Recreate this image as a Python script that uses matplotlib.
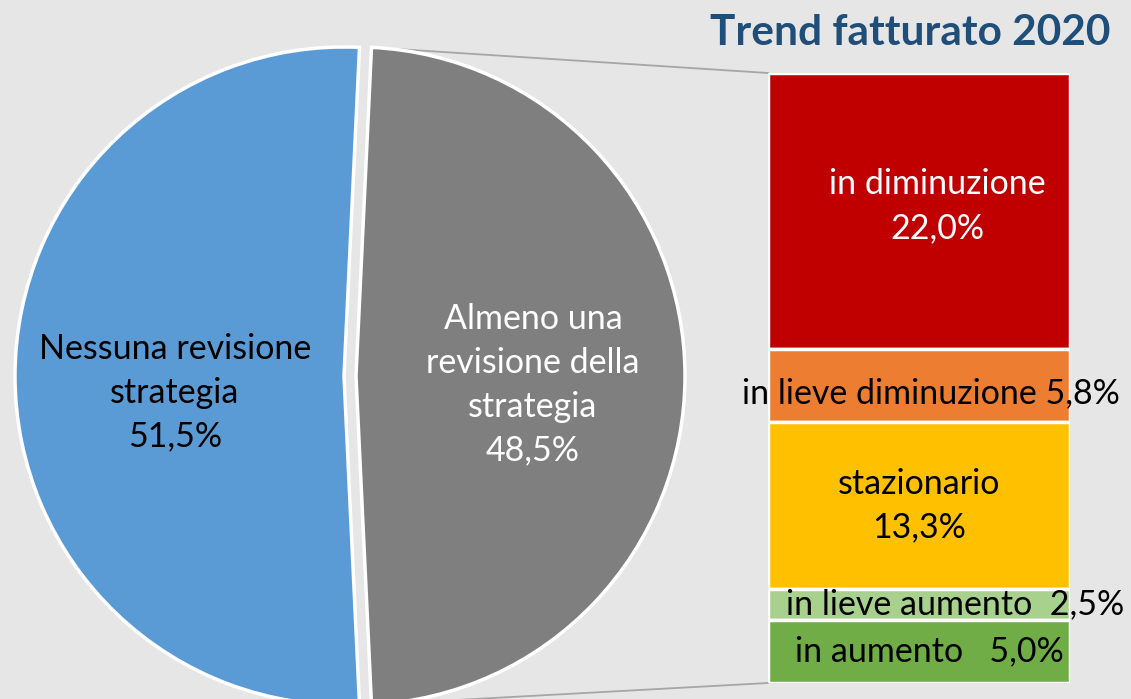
import matplotlib.pyplot as plt
import numpy as np

# dati torta
pie_labels = ["Nessuna revisione\nstrategia", "Almeno una\nrevisione della\nstrategia"]
pie_values = [51.5, 48.5]
pie_colors = ["#5B9BD5", "#7F7F7F"]

# dati barra (dall'alto in basso)
bar_labels = ["in diminuzione", "in lieve diminuzione", "stazionario",
              "in lieve aumento", "in aumento"]
bar_values = [22.0, 5.8, 13.3, 2.5, 5.0]
bar_colors = ["#C00000", "#ED7D31", "#FFC000", "#A9D18E", "#70AD47"]

title = "Trend fatturato 2020"

W, H = 1131, 699
BG = "#E7E6E6"
FS = 24.5
LS = 1.45
plt.rcParams['font.family'] = ['Lato', 'DejaVu Sans']


def fmt(v):
    return f"{v:.1f}%".replace(".", ",")


fig = plt.figure(figsize=(W/100, H/100), dpi=100, facecolor=BG)

# asse principale in coordinate pixel (y verso l'alto)
ax = fig.add_axes([0, 0, 1, 1])
ax.set_facecolor(BG)

cx, cy, r = 344, H - 376, 329
explode_px = 12
start = 180 - pie_values[0] / 100 * 360 / 2
wedges, _ = ax.pie(pie_values, colors=pie_colors, startangle=start,
                   center=(cx, cy), radius=r,
                   explode=[0, explode_px],
                   wedgeprops=dict(edgecolor="white", linewidth=2.5))
for w in wedges:
    w.set_zorder(3)

ax.set_xlim(0, W)
ax.set_ylim(0, H)
ax.set_aspect("equal")
ax.set_axis_off()

# box della barra in pixel
bx0, bx1, by_top, by_bot = 768, 1070, 73, 683

# linee di collegamento
th1 = np.deg2rad(start + pie_values[0] / 100 * 360)
th2 = np.deg2rad(start)
gx = cx + explode_px
top_pt = (gx + r * np.cos(th2), cy + r * np.sin(th2))
bot_pt = (gx + r * np.cos(th1), cy + r * np.sin(th1))
ax.plot([top_pt[0], bx0], [top_pt[1], H - by_top], color="#A6A6A6", lw=1.3, zorder=1)
ax.plot([bot_pt[0], bx0], [bot_pt[1], H - by_bot], color="#A6A6A6", lw=1.3, zorder=1)

# etichette torta
ax.text(175, H - 393, f"{pie_labels[0]}\n{fmt(pie_values[0])}", ha="center", va="center",
        fontsize=FS, color="black", linespacing=LS, zorder=5)
ax.text(533, H - 385, f"{pie_labels[1]}\n{fmt(pie_values[1])}", ha="center", va="center",
        fontsize=FS, color="white", linespacing=LS, zorder=5)

# titolo
ax.text(1110, H - 33, title, ha="right", va="center", fontsize=30.5, fontweight="bold",
        color="#1F4E79")

# barra impilata
bax = fig.add_axes([bx0 / W, (H - by_bot) / H, (bx1 - bx0) / W, (by_bot - by_top) / H])
bax.set_axis_off()
total = sum(bar_values)
bottoms = total - np.cumsum(bar_values)
bax.bar([0] * len(bar_values), bar_values, bottom=bottoms, width=1.0,
        color=bar_colors, edgecolor="white", linewidth=2.5)
bax.set_xlim(-0.5, 0.5)
bax.set_ylim(0, total)

# etichette barra (offset x in frazione della larghezza, dy in pixel)
px = total / (by_bot - by_top)
lab_cfg = [
    (f"{bar_labels[0]}\n{fmt(bar_values[0])}", 0.06, 5, "white"),
    (f"{bar_labels[1]} {fmt(bar_values[1])}", 0.038, -8, "black"),
    (f"{bar_labels[2]}\n{fmt(bar_values[2])}", 0.0, 0, "black"),
    (f"{bar_labels[3]}  {fmt(bar_values[3])}", 0.12, 0, "black"),
    (f"{bar_labels[4]}   {fmt(bar_values[4])}", 0.036, 0, "black"),
]
for (txt, dx, dy, col), b, v in zip(lab_cfg, bottoms, bar_values):
    bax.text(dx, b + v / 2 + dy * px, txt, ha="center", va="center", fontsize=FS,
             color=col, linespacing=LS, clip_on=False)

fig.savefig("out.png", dpi=100, facecolor=BG)
